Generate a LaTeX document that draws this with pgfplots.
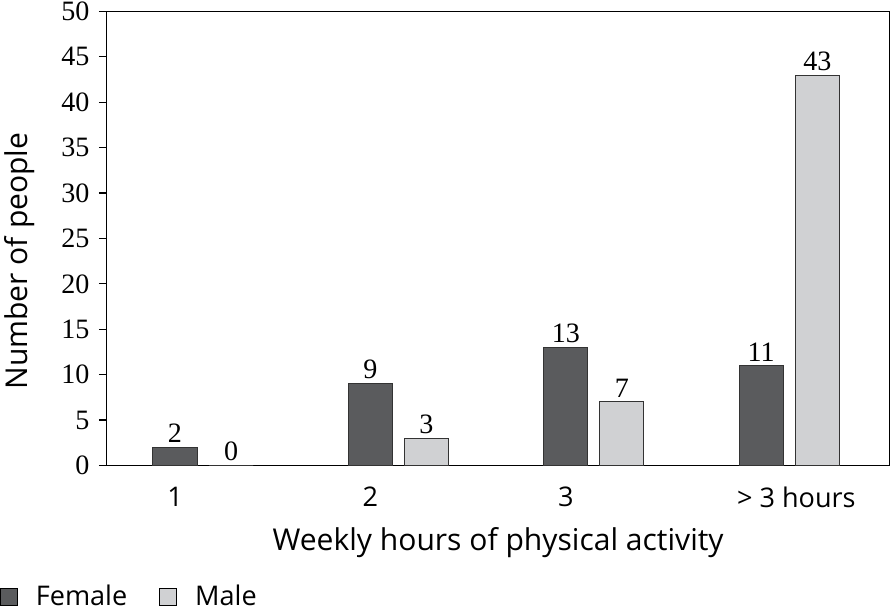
\documentclass[border=0pt]{standalone}
\usepackage{pgfplots}
\pgfplotsset{compat=1.18}
\usepackage{fontspec}
\setmainfont{Open Sans}
\newfontfamily\numfont{Liberation Serif}
\definecolor{fem}{HTML}{5A5B5D}
\definecolor{mal}{HTML}{D0D1D3}
\begin{document}
\fontsize{13.5pt}{15pt}\selectfont
\begin{tikzpicture}
\begin{axis}[
    width=390.5pt, height=226.5pt,
    scale only axis,
    xmin=-0.349, xmax=3.656,
    ymin=0, ymax=50,
    ytick={0,5,...,50},
    ytick pos=left,
    yticklabel style={font=\numfont\fontsize{14pt}{15pt}\selectfont, inner ysep=1pt},
    /pgf/number format/assume math mode=true,
    xtick={0,1,2,3.18},
    xticklabels={1,2,3,{> 3 hours}},
    xticklabel style={yshift=-2pt},
    x tick style={draw=none},
    y tick style={black, line width=0.6pt},
    tick align=outside,
    major tick length=4pt,
    axis line style={line width=0.6pt},
    ylabel={Number of people},
    ylabel style={at={(rel axis cs:-0.111,0.45)}, anchor=center, inner sep=0pt, font=\fontsize{15pt}{16pt}\selectfont},
    xlabel={Weekly hours of physical activity},
    xlabel style={at={(rel axis cs:0.5,-0.17)}, anchor=center, font=\fontsize{15pt}{16pt}\selectfont},
    ybar, bar shift=0pt, bar width=0.226,
    nodes near coords,
    nodes near coords style={font=\numfont\fontsize{14pt}{15pt}\selectfont, /pgf/number format/assume math mode=true, inner sep=2pt},
    legend columns=2,
    legend style={draw=none, at={(rel axis cs:-0.137,-0.291)}, anchor=west, inner sep=0pt,
      nodes={inner sep=0pt},
      /tikz/every odd column/.append style={column sep=9pt},
      /tikz/every even column/.append style={column sep=16pt}},
    legend image code/.code={\draw[#1, draw=black, line width=0.4pt] (0pt,-4pt) rectangle (8.5pt,4.5pt);},
]
\addplot[fill=fem, draw=black!80, line width=0.5pt] coordinates {(0,2) (1,9) (2,13) (3,11)};
\addplot[fill=mal, draw=black!80, line width=0.5pt] coordinates {(0.287,0) (1.287,3) (2.287,7) (3.287,43)};
\legend{Female, Male}
\end{axis}
\end{tikzpicture}
\end{document}
